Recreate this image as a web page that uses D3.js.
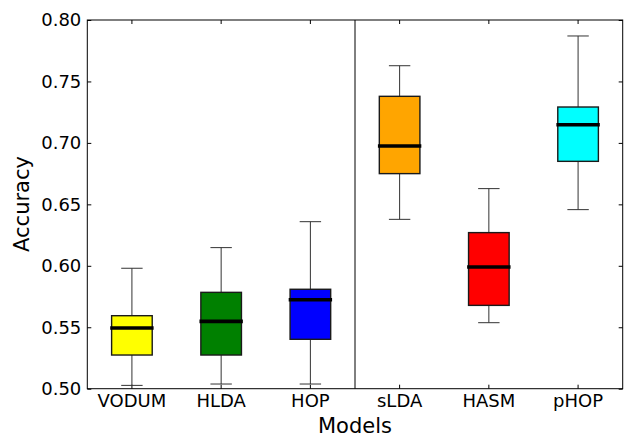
<!DOCTYPE html>
<html>
<head>
<meta charset="utf-8">
<style>
  body { margin: 0; background: #fff; }
  text { font-family: "DejaVu Sans", sans-serif; }
</style>
</head>
<body>
<script src="https://cdn.jsdelivr.net/npm/d3@7"></script>
<script>
    // values
    let models = ["VODUM", "HLDA", "HOP", "sLDA", "HASM", "pHOP"]
    let colors = ["#ffff00", "#008000", "#0000ff", "#ffa500", "#ff0000", "#00ffff"]
    let whisker_low  = [0.5027, 0.5038, 0.5038, 0.6378, 0.5537, 0.6457]
    let q1           = [0.5274, 0.5274, 0.5402, 0.6750, 0.5678, 0.6850]
    let medians      = [0.5494, 0.5548, 0.5724, 0.6975, 0.5990, 0.7148]
    let q3           = [0.5594, 0.5784, 0.5809, 0.7379, 0.6270, 0.7292]
    let whisker_high = [0.5980, 0.6148, 0.6359, 0.7628, 0.6628, 0.7870]
    let y_ticks = [0.50, 0.55, 0.60, 0.65, 0.70, 0.75, 0.80]

    let W = 626, H = 438
    let plot_l = 87.3, plot_r = 622.7, plot_t = 20, plot_b = 388.7

    let svg = d3.select("body").append("svg")
                .attr("width", W).attr("height", H)

    let x = d3.scaleBand().domain(models).range([plot_l, plot_r]).padding(0)
    let y = d3.scaleLinear().domain([0.5, 0.8]).range([plot_b, plot_t])

    let bw = x.bandwidth()
    let box_w = bw * 0.455, cap_w = bw * 0.24
    let cx = m => x(m) + bw / 2

    let styleAxis = g => {
        g.select(".domain").remove()
        g.selectAll("line").attr("stroke", "#000").attr("stroke-width", 1)
        g.selectAll("text").attr("font-size", 18).attr("fill", "#000")
    }

    svg.append("g").attr("transform", `translate(0,${plot_b})`)
       .call(d3.axisBottom(x).tickSizeInner(-4).tickSizeOuter(0).tickPadding(6))
       .call(styleAxis)
    svg.append("g").attr("transform", `translate(0,${plot_t})`)
       .call(d3.axisTop(x).tickSizeInner(-4).tickSizeOuter(0).tickFormat(""))
       .call(styleAxis)
    svg.append("g").attr("transform", `translate(${plot_l},0)`)
       .call(d3.axisLeft(y).tickValues(y_ticks).tickFormat(d3.format(".2f"))
                .tickSizeInner(-4).tickSizeOuter(0).tickPadding(6))
       .call(styleAxis)
    svg.append("g").attr("transform", `translate(${plot_r},0)`)
       .call(d3.axisRight(y).tickValues(y_ticks).tickFormat("")
                .tickSizeInner(-4).tickSizeOuter(0))
       .call(styleAxis)

    // divider between the two groups
    let div_x = x(models[3])
    svg.append("line").attr("x1", div_x).attr("x2", div_x).attr("y1", plot_t).attr("y2", plot_b)
       .attr("stroke", "#000").attr("stroke-width", 1)

    // boxes
    let boxes = svg.append("g").selectAll("g").data(models).join("g")

    boxes.append("line")
         .attr("x1", cx).attr("x2", cx)
         .attr("y1", (m, i) => y(whisker_high[i])).attr("y2", (m, i) => y(q3[i]))
         .attr("stroke", "#333").attr("stroke-width", 1)
    boxes.append("line")
         .attr("x1", cx).attr("x2", cx)
         .attr("y1", (m, i) => y(q1[i])).attr("y2", (m, i) => y(whisker_low[i]))
         .attr("stroke", "#333").attr("stroke-width", 1)
    boxes.append("line")
         .attr("x1", m => cx(m) - cap_w / 2).attr("x2", m => cx(m) + cap_w / 2)
         .attr("y1", (m, i) => y(whisker_high[i])).attr("y2", (m, i) => y(whisker_high[i]))
         .attr("stroke", "#333").attr("stroke-width", 1)
    boxes.append("line")
         .attr("x1", m => cx(m) - cap_w / 2).attr("x2", m => cx(m) + cap_w / 2)
         .attr("y1", (m, i) => y(whisker_low[i])).attr("y2", (m, i) => y(whisker_low[i]))
         .attr("stroke", "#333").attr("stroke-width", 1)

    boxes.append("rect")
         .attr("x", m => cx(m) - box_w / 2).attr("width", box_w)
         .attr("y", (m, i) => y(q3[i])).attr("height", (m, i) => y(q1[i]) - y(q3[i]))
         .attr("fill", (m, i) => colors[i])
         .attr("stroke", "#1a1a1a").attr("stroke-width", 1.4)

    boxes.append("line")
         .attr("x1", m => cx(m) - box_w / 2 - 1.4).attr("x2", m => cx(m) + box_w / 2 + 1.4)
         .attr("y1", (m, i) => y(medians[i])).attr("y2", (m, i) => y(medians[i]))
         .attr("stroke", "#000").attr("stroke-width", 3.6)

    // frame
    svg.append("rect").attr("x", plot_l).attr("y", plot_t)
       .attr("width", plot_r - plot_l).attr("height", plot_b - plot_t)
       .attr("fill", "none").attr("stroke", "#000").attr("stroke-width", 1)

    // axis titles
    svg.append("text").attr("x", (plot_l + plot_r) / 2).attr("y", 432.7)
       .attr("text-anchor", "middle").attr("font-size", 21).text("Models")
    svg.append("text").attr("transform", "translate(28.5,204) rotate(-90)")
       .attr("text-anchor", "middle").attr("font-size", 21).text("Accuracy")
</script>
</body>
</html>
